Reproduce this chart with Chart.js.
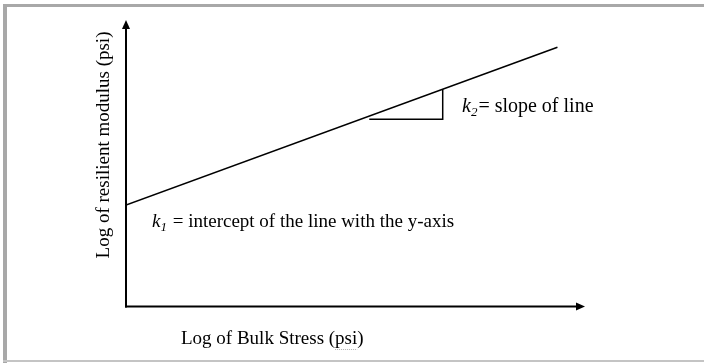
<!DOCTYPE html>
<html>
<head>
<meta charset="utf-8">
<script src="https://cdn.jsdelivr.net/npm/chart.js@4/dist/chart.umd.min.js"></script>
<style>
html,body{margin:0;padding:0;background:#fff;}
canvas{display:block;}
</style>
</head>
<body>
<canvas id="c" width="704" height="363"></canvas>
<script>
// Data (arbitrary log units)
const logBulkStress = [0, 94];
const logModulus = [35.4, 90.5];
const slopeTriX = [53, 69, 69];
const slopeTriY = [65.4, 65.4, 75.8];
const axisRange = [0, 100];

const xTitle = "Log of Bulk Stress (psi)";
const yTitle = "Log of resilient modulus (psi)";
const k1Text = " = intercept of the line with the y-axis";
const k2Text = "= slope of line";

const FONT = '"Liberation Serif", "Times New Roman", serif';
const FS = 19;

const toPts = (xs, ys) => xs.map((x, i) => ({x: x, y: ys[i]}));

const decor = {
  id: 'decor',
  beforeDraw(chart) {
    const ctx = chart.ctx;
    ctx.save();
    ctx.fillStyle = '#fff';
    ctx.fillRect(0, 0, chart.width, chart.height);
    // frame
    ctx.fillStyle = '#a8a8a8';
    ctx.fillRect(3, 4, chart.width - 3, 3);
    ctx.fillRect(3, 4, 4, chart.height - 4);
    ctx.fillStyle = '#c4c4c4';
    ctx.fillRect(3, 360, chart.width - 3, 2);
    ctx.restore();
  },
  afterDatasetsDraw(chart) {
    const ctx = chart.ctx;
    const xs = chart.scales.x, ys = chart.scales.y;
    const x0 = xs.getPixelForValue(axisRange[0]);
    const x1 = xs.getPixelForValue(axisRange[1]);
    const y0 = ys.getPixelForValue(axisRange[0]);
    const y1 = ys.getPixelForValue(axisRange[1]);
    ctx.save();
    ctx.strokeStyle = '#000';
    ctx.fillStyle = '#000';
    ctx.lineWidth = 2;
    // y axis
    ctx.beginPath();
    ctx.moveTo(x0, y0 + 1);
    ctx.lineTo(x0, y1 + 7);
    ctx.stroke();
    ctx.beginPath();
    ctx.moveTo(x0, y1);
    ctx.lineTo(x0 - 4, y1 + 9);
    ctx.lineTo(x0 + 4, y1 + 9);
    ctx.closePath();
    ctx.fill();
    // x axis
    ctx.beginPath();
    ctx.moveTo(x0 - 1, y0);
    ctx.lineTo(x1 - 7, y0);
    ctx.stroke();
    ctx.beginPath();
    ctx.moveTo(x1, y0);
    ctx.lineTo(x1 - 9, y0 - 4);
    ctx.lineTo(x1 - 9, y0 + 4);
    ctx.closePath();
    ctx.fill();

    // texts
    ctx.textBaseline = 'alphabetic';
    ctx.textAlign = 'left';
    ctx.font = FS + 'px ' + FONT;
    ctx.fillText(xTitle, 181, 344);
    // spell-check squiggle under "psi"
    const pre = ctx.measureText("Log of Bulk Stress (").width;
    const pw = ctx.measureText("psi").width;
    ctx.strokeStyle = '#b0b0b0';
    ctx.lineWidth = 1;
    ctx.setLineDash([1, 1]);
    ctx.beginPath();
    ctx.moveTo(181 + pre, 349.5);
    ctx.lineTo(181 + pre + pw, 349.5);
    ctx.stroke();
    ctx.setLineDash([]);

    // y title rotated
    ctx.save();
    ctx.translate(109, 145);
    ctx.rotate(-Math.PI / 2);
    ctx.textAlign = 'center';
    ctx.fillStyle = '#000';
    ctx.font = FS + 'px ' + FONT;
    ctx.fillText(yTitle, 0, 0);
    ctx.restore();

    const kLabel = (x, y, sub, rest, fs) => {
      ctx.fillStyle = '#000';
      ctx.font = 'italic ' + fs + 'px ' + FONT;
      ctx.fillText('k', x, y);
      let cx = x + ctx.measureText('k').width;
      ctx.font = 'italic 13px ' + FONT;
      ctx.fillText(sub, cx, y + 4);
      cx += ctx.measureText(sub).width + 1;
      ctx.font = fs + 'px ' + FONT;
      ctx.fillText(rest, cx, y);
    };
    kLabel(152, 227, '1', k1Text, FS);
    kLabel(462, 112, '2', k2Text, 20);
    ctx.restore();
  }
};

new Chart(document.getElementById('c'), {
  type: 'scatter',
  data: {
    datasets: [
      {
        data: toPts(logBulkStress, logModulus),
        showLine: true,
        borderColor: '#000',
        borderWidth: 1.5,
        pointRadius: 0,
        fill: false
      },
      {
        data: toPts(slopeTriX, slopeTriY),
        showLine: true,
        borderColor: '#000',
        borderWidth: 1.5,
        pointRadius: 0,
        fill: false
      }
    ]
  },
  options: {
    responsive: false,
    animation: false,
    devicePixelRatio: 1,
    layout: { padding: { left: 126, right: 119, top: 20, bottom: 56.5 } },
    plugins: { legend: { display: false }, tooltip: { enabled: false } },
    scales: {
      x: { type: 'linear', min: axisRange[0], max: axisRange[1], display: false },
      y: { type: 'linear', min: axisRange[0], max: axisRange[1], display: false }
    }
  },
  plugins: [decor]
});
</script>
</body>
</html>
